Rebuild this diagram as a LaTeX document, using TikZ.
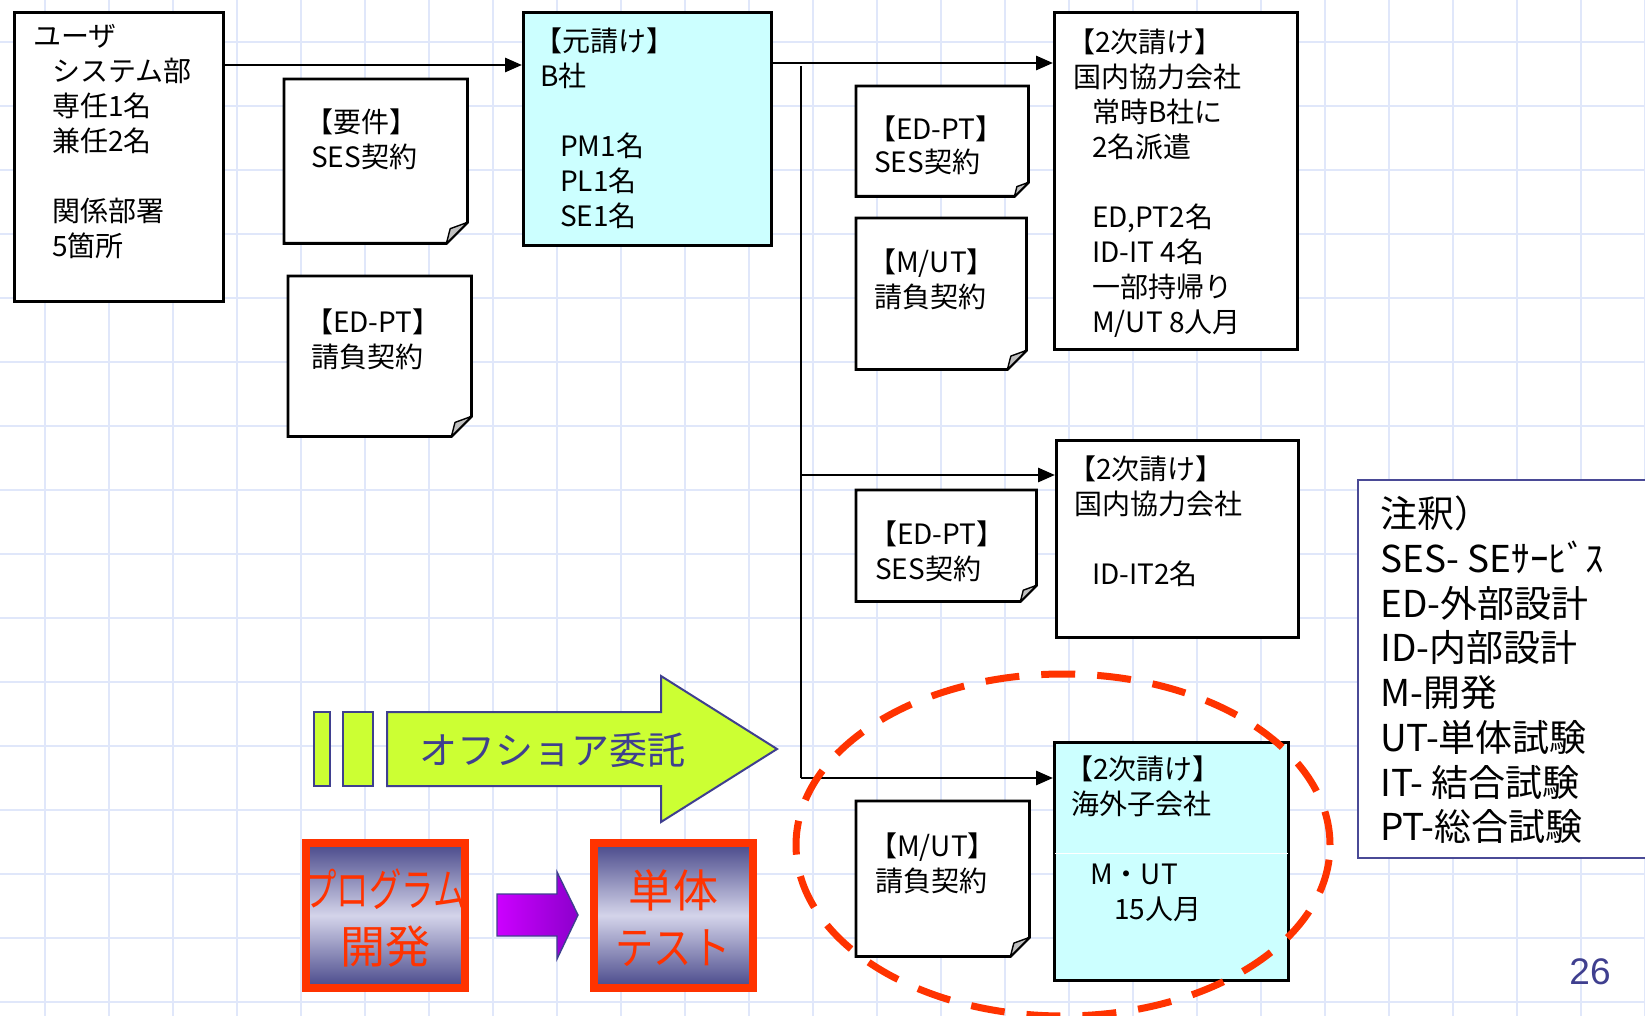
\documentclass[tikz,border=0pt]{standalone}
\usepackage{fontspec}
\usepackage{graphicx}
\setmainfont{Noto Sans CJK JP}
\newfontfamily\pagenumfont{Liberation Sans}
\usetikzlibrary{arrows.meta,calc}
\definecolor{cyanfill}{HTML}{CCFFFF}
\definecolor{gridc}{HTML}{E0E7FA}
\definecolor{redo}{HTML}{FF3300}
\definecolor{navy}{HTML}{3F3F8F}
\definecolor{limef}{HTML}{CCFF33}
\definecolor{gnavy}{HTML}{48488A}
\definecolor{glight}{HTML}{D4D4EA}
\definecolor{purpA}{HTML}{CC00FF}
\definecolor{purpB}{HTML}{8C00CC}
\definecolor{foldc}{HTML}{C0C0C0}
\definecolor{legendc}{HTML}{4A4A96}
\newcommand\drawnote[2]{%
  \draw[notepath] (#1.north west) -- (#1.north east) -- ([yshift=#2pt]#1.south east) -- ([xshift=-#2pt]#1.south east) -- (#1.south west) -- cycle;
  \draw[foldpath] ([yshift=#2pt]#1.south east) -- ([xshift=-#2pt]#1.south east) -- ([xshift=-0.82*#2pt, yshift=0.7*#2pt]#1.south east) -- cycle;
}
\newcommand\lb{\hspace*{-6pt}}
\begin{document}
\begin{tikzpicture}[x=1pt,y=-1pt,
  bx/.style={draw, line width=2.9pt, inner sep=0pt, anchor=north west, fill=white},
  holder/.style={inner sep=0pt, anchor=north west},
  notepath/.style={draw, line width=2.8pt, fill=white, line join=miter},
  foldpath/.style={draw, line width=1.4pt, fill=foldc, line join=round},
  btxt/.style={anchor=north west, inner sep=0pt, align=left, font=\fontsize{28}{35}\selectfont, execute at begin node={\rule{0pt}{0.88em}}},
  arr/.style={line width=2.9pt, -{Triangle[length=17pt,width=14pt]}},
  trunkline/.style={line width=2.9pt},
  gridline/.style={gridc, line width=2.4pt},
  offshape/.style={draw=navy, line width=2pt, fill=limef, line join=miter},
  gbox/.style={draw=redo, line width=8pt, minimum width=159pt, minimum height=145pt, inner sep=0pt, top color=gnavy, bottom color=gnavy, middle color=glight},
  bigred/.style={text=redo, inner sep=0pt, align=center, font=\fontsize{45}{57}\selectfont}
]
\useasboundingbox (0,0) rectangle (1645,1016);
\fill[white] (0,0) rectangle (1645,1016);
% grid
\foreach \gx in {45,109,...,1645} \draw[gridline] (\gx,0) -- (\gx,1016);
\foreach \gy in {42,106,...,1016} \draw[gridline] (0,\gy) -- (1645,\gy);

% main boxes
\node[bx, minimum width=209pt, minimum height=289pt] (user) at (13,11) {};
\node[bx, fill=cyanfill, minimum width=248pt, minimum height=233pt] (B) at (522,11) {};
\node[bx, minimum width=243pt, minimum height=337pt] (S1) at (1053,11) {};
\node[bx, minimum width=242pt, minimum height=197pt] (S2) at (1055,439) {};
\node[bx, fill=cyanfill, minimum width=234pt, minimum height=238pt] (S3) at (1053,741) {};
\draw[white, line width=0.8pt] ([yshift=-112pt, xshift=2pt]S3.north west) -- ([yshift=-112pt, xshift=-2pt]S3.north east);

% notes
\node[holder, minimum width=183pt, minimum height=164pt] (n1) at (284,79) {};
\node[holder, minimum width=183pt, minimum height=160pt] (n2) at (288,276) {};
\node[holder, minimum width=172pt, minimum height=110pt] (n3) at (856,86) {};
\node[holder, minimum width=170pt, minimum height=151pt] (n4) at (856,218) {};
\node[holder, minimum width=180pt, minimum height=111pt] (n5) at (856,490) {};
\node[holder, minimum width=173pt, minimum height=155pt] (n6) at (856,801) {};
\drawnote{n1}{21}
\drawnote{n2}{20}
\drawnote{n3}{14}
\drawnote{n4}{19}
\drawnote{n5}{16}
\drawnote{n6}{19}

% connectors
\draw[arr] ([yshift=-54pt]user.north east) coordinate (a1) -- (a1 -| B.west);
\draw[arr] ([yshift=-52pt]B.north east) coordinate (a2) -- (a2 -| S1.west);
\coordinate (trunktop) at (801,66);
\coordinate (trunkmid) at (801,475);
\coordinate (trunkbot) at (801,778);
\draw[trunkline] (trunktop) -- (trunkbot);
\draw[arr] (trunkmid) -- (trunkmid -| S2.west);
\draw[arr] (trunkbot) -- (trunkbot -| S3.west);

% texts
\node[btxt] (usertxt) at (33,24) {ユーザ\\
\hspace*{19pt}システム部\\
\hspace*{19pt}専任1名\\
\hspace*{19pt}兼任2名\\[35.5pt]
\hspace*{19pt}関係部署\\
\hspace*{19pt}5箇所};
\node[btxt] (Btxt) at (540,28) {\lb【元請け】\\
B社\\[35pt]
\hspace*{20pt}PM1名\\
\hspace*{20pt}PL1名\\
\hspace*{20pt}SE1名};
\node[btxt] (S1txt) at (1073,29) {\lb【2次請け】\\
国内協力会社\\
\hspace*{19pt}常時B社に\\
\hspace*{19pt}2名派遣\\[35pt]
\hspace*{19pt}ED,PT2名\\
\hspace*{19pt}ID-IT 4名\\
\hspace*{19pt}一部持帰り\\
\hspace*{19pt}M/UT 8人月};
\node[btxt] (S2txt) at (1074,456) {\lb【2次請け】\\
国内協力会社\\[35pt]
\hspace*{18pt}ID-IT2名};
\node[btxt] (S3txt) at (1071,756) {\lb【2次請け】\\
海外子会社\\[35pt]
\hspace*{19pt}M・UT\\
\hspace*{43pt}15人月};
\node[btxt] (n1txt) at (311,109) {\lb【要件】\\SES契約};
\node[btxt] (n2txt) at (311,309) {\lb【ED-PT】\\請負契約};
\node[btxt] (n3txt) at (874,116) {\lb【ED-PT】\\[-2pt]SES契約};
\node[btxt] (n4txt) at (874,249) {\lb【M/UT】\\請負契約};
\node[btxt] (n5txt) at (875,521) {\lb【ED-PT】\\SES契約};
\node[btxt] (n6txt) at (875,833) {\lb【M/UT】\\請負契約};

% offshore arrow
\draw[offshape] (314,712) rectangle (330,786);
\draw[offshape] (343,712) rectangle (373,786);
\draw[offshape] (387,712) -- (661,712) -- (661,676) -- (777,749) -- (661,822) -- (661,786) -- (387,786) -- cycle;
\node[text=navy, inner sep=0pt, font=\fontsize{38}{40}\selectfont] (offtxt) at (552,750) {オフショア委託};

% program -> unit test
\node[gbox] (prog) at (385.5,915.5) {};
\node[gbox] (unit) at (673.5,915.5) {};
\node[bigred] (progtxt) at (385,918) {\scalebox{0.72}[1]{プログラム}\\開発};
\node[bigred] (unittxt) at (673,918) {単体\\\scalebox{0.85}[1]{テスト}};
\draw[draw=navy, line width=1.4pt, left color=purpA, right color=purpB] (497,894) -- (557,894) -- (557,872) -- (578,915) -- (557,959) -- (557,936) -- (497,936) -- cycle;

% dashed ellipse
\draw[redo, line width=7pt, dash pattern=on 34pt off 22pt] (1063,845) ellipse [x radius=267pt, y radius=171pt];

% legend
\fill[white] (1358,480) rectangle (1645,858);
\draw[legendc, line width=2.2pt] (1650,480) -- (1358,480) -- (1358,858) -- (1650,858);
\node[anchor=north west, inner sep=0pt, align=left, font=\fontsize{37}{44.7}\selectfont, execute at begin node={\rule{0pt}{0.88em}}] (legend) at (1380,496) {注釈）\\
SES- SEｻｰﾋﾞｽ\\
ED-外部設計\\
ID-内部設計\\
M-開発\\
UT-単体試験\\
IT- 結合試験\\
PT-総合試験};

% page number
\node[text=navy, inner sep=0pt, font=\pagenumfont\fontsize{37}{40}\selectfont] (pgnum) at (1590,972) {26};
\end{tikzpicture}
\end{document}
